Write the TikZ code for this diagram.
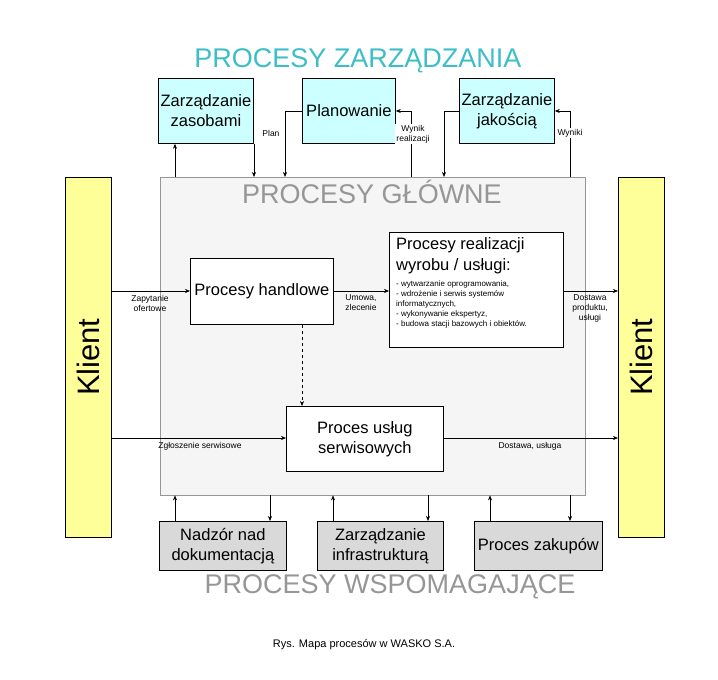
\documentclass[tikz,border=0pt]{standalone}
\usepackage{fontspec}
\setmainfont{Liberation Sans}
\usetikzlibrary{arrows.meta}
\definecolor{tcyan}{RGB}{60,190,200}
\definecolor{bcyan}{RGB}{204,255,255}
\definecolor{kyel}{RGB}{255,255,153}
\definecolor{bgray}{RGB}{217,217,217}
\definecolor{tgray}{RGB}{150,150,150}
\definecolor{mgray}{RGB}{245,245,245}
\begin{document}
\begin{tikzpicture}[x=1pt,y=-1pt,
  box/.style={draw=black,line width=0.8pt,align=center,font=\fontsize{16.5}{20}\selectfont,inner sep=0pt},
  lab/.style={font=\fontsize{8.5}{10}\selectfont,align=center},
  arr/.style={-{Stealth[length=5pt,width=4pt]},line width=0.6pt},
  big/.style={font=\fontsize{27}{30}\selectfont}]
\useasboundingbox (0,0) rectangle (718,680);
\node[draw=tgray,fill=mgray,minimum width=425,minimum height=318,anchor=north west,inner sep=0] (main) at (160,177) {};
\node[big,text=tgray] (mt) at (372,192) {PROCESY GŁÓWNE};
\node[big,text=tcyan] (tt) at (358,61) {PROCESY ZARZĄDZANIA};
\node[big,text=tgray] (bt) at (390,587) {PROCESY WSPOMAGAJĄCE};
\node[font=\fontsize{11}{13}\selectfont] (cap) at (364,645) {Rys. Mapa procesów w WASKO S.A.};
% Klient
\node[draw=black,fill=kyel,minimum width=46,minimum height=360,anchor=north west,inner sep=0] (kl) at (65,177) {};
\node[font=\fontsize{31}{34}\selectfont,rotate=90] at (kl.center) {Klient};
\node[draw=black,fill=kyel,minimum width=46,minimum height=360,anchor=north west,inner sep=0] (kr) at (618,177) {};
\node[font=\fontsize{31}{34}\selectfont,rotate=90] at (kr.center) {Klient};
% top
\node[box,fill=bcyan,minimum width=95,minimum height=65,anchor=north west] (zz) at (158,78) {Zarządzanie\\zasobami};
\node[box,fill=bcyan,minimum width=93,minimum height=65,anchor=north west] (pl) at (302,78) {Planowanie};
\node[box,fill=bcyan,minimum width=95,minimum height=65,anchor=north west] (zj) at (459,78) {Zarządzanie\\jakością};
% middle
\node[box,fill=white,minimum width=143,minimum height=66,anchor=north west] (ph) at (190,258) {Procesy handlowe};
\node[box,fill=white,minimum width=174,minimum height=115,anchor=north west] (pr) at (389,232) {};
\node[anchor=north west,align=left,inner sep=0,font=\fontsize{16.5}{21}\selectfont] (prt) at (396,237) {Procesy realizacji\\wyrobu / usługi:};
\node[anchor=north west,align=left,inner sep=0,font=\fontsize{8}{10}\selectfont] (prl) at (396,281) {- wytwarzanie oprogramowania,\\- wdrożenie i serwis systemów\\informatycznych,\\- wykonywanie ekspertyz,\\- budowa stacji bazowych i obiektów.};
\node[box,fill=white,minimum width=157,minimum height=65,anchor=north west] (pu) at (286,406) {Proces usług\\serwisowych};
% bottom
\node[box,fill=bgray,minimum width=127,minimum height=49,anchor=north west] (nd) at (159,521) {Nadzór nad\\dokumentacją};
\node[box,fill=bgray,minimum width=126,minimum height=49,anchor=north west] (zi) at (317,521) {Zarządzanie\\infrastrukturą};
\node[box,fill=bgray,minimum width=128,minimum height=49,anchor=north west] (pz) at (474,521) {Proces zakupów};
% top arrows
\draw[arr] (main.north -| 175,0) -- (zz.south -| 175,0);
\draw[arr] (zz.south -| 254,0) -- (main.north -| 254,0);
\coordinate (p1) at (285,111);
\draw[arr] (pl.west |- p1) -- (p1) -- (main.north -| p1);
\node[lab,anchor=east] at (283,133) {Plan};
\coordinate (p2) at (411,111);
\draw[arr] (main.north -| p2) -- (p2) -- (pl.east |- p2);
\node[lab,fill=white,inner sep=1pt] at (413,134) {Wynik\\realizacji};
\coordinate (p3) at (444,111);
\draw[arr] (zj.west |- p3) -- (p3) -- (main.north -| p3);
\coordinate (p4) at (570,111);
\draw[arr] (main.north -| p4) -- (p4) -- (zj.east |- p4);
\node[lab,fill=white,inner sep=1pt] at (570,133) {Wyniki};
% middle arrows
\draw[arr] (kl.east |- 0,291) -- (ph.west |- 0,291);
\node[lab] at (150,303) {Zapytanie\\ofertowe};
\draw[arr] (ph.east |- 0,291) -- (pr.west |- 0,291);
\node[lab] at (361,303) {Umowa,\\zlecenie};
\draw[arr] (pr.east |- 0,291) -- (kr.west |- 0,291);
\node[lab] at (590,308) {Dostawa\\produktu,\\usługi};
\draw[arr,dashed] (ph.south -| 302,0) -- (pu.north -| 302,0);
\draw[arr] (kl.east |- 0,438) -- (pu.west |- 0,438);
\node[lab] at (200,446) {Zgłoszenie serwisowe};
\draw[arr] (pu.east |- 0,438) -- (kr.west |- 0,438);
\node[lab] at (530,446) {Dostawa, usługa};
% bottom arrows
\draw[arr] (nd.north -| 175,0) -- (main.south -| 175,0);
\draw[arr] (main.south -| 270,0) -- (nd.north -| 270,0);
\draw[arr] (zi.north -| 333,0) -- (main.south -| 333,0);
\draw[arr] (main.south -| 428,0) -- (zi.north -| 428,0);
\draw[arr] (pz.north -| 490,0) -- (main.south -| 490,0);
\draw[arr] (main.south -| 570,0) -- (pz.north -| 570,0);
\end{tikzpicture}
\end{document}
